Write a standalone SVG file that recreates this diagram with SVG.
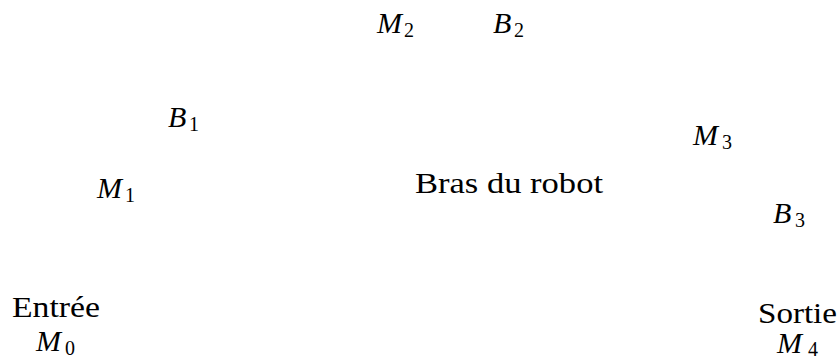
<svg xmlns="http://www.w3.org/2000/svg" width="840" height="360" viewBox="0 0 840 360">
<style>
.lbl { font-size: 30px; }
.var { font-size: 30px; font-style: italic; }
.sub { font-size: 20px; font-style: normal; }
</style>
<rect width="840" height="360" fill="#fff"/>
<g id="connectors"></g>
<g font-family="'Liberation Serif', 'Times New Roman', Tinos, 'DejaVu Serif', serif" fill="#000">
<g id="M0">
  <text class="lbl" x="12" y="317" textLength="88" lengthAdjust="spacingAndGlyphs">Entrée</text>
  <text class="var" x="36" y="351">M</text><text class="sub" x="65" y="355">0</text>
</g>
<g id="M1">
  <text class="var" x="97" y="198">M</text><text class="sub" x="125" y="202">1</text>
</g>
<g id="B1">
  <text class="var" x="168" y="127">B</text><text class="sub" x="189" y="131">1</text>
</g>
<g id="M2">
  <text class="var" x="377" y="33">M</text><text class="sub" x="404" y="37">2</text>
</g>
<g id="B2">
  <text class="var" x="493" y="33">B</text><text class="sub" x="514" y="37">2</text>
</g>
<g id="bras">
  <text class="lbl" x="415" y="193" textLength="188" lengthAdjust="spacingAndGlyphs">Bras du robot</text>
</g>
<g id="M3">
  <text class="var" x="693" y="145">M</text><text class="sub" x="722" y="149">3</text>
</g>
<g id="B3">
  <text class="var" x="773" y="223">B</text><text class="sub" x="795" y="227">3</text>
</g>
<g id="M4">
  <text class="lbl" x="758" y="323" textLength="79" lengthAdjust="spacingAndGlyphs">Sortie</text>
  <text class="var" x="777" y="353">M</text><text class="sub" x="808" y="356">4</text>
</g>
</g>
</svg>
